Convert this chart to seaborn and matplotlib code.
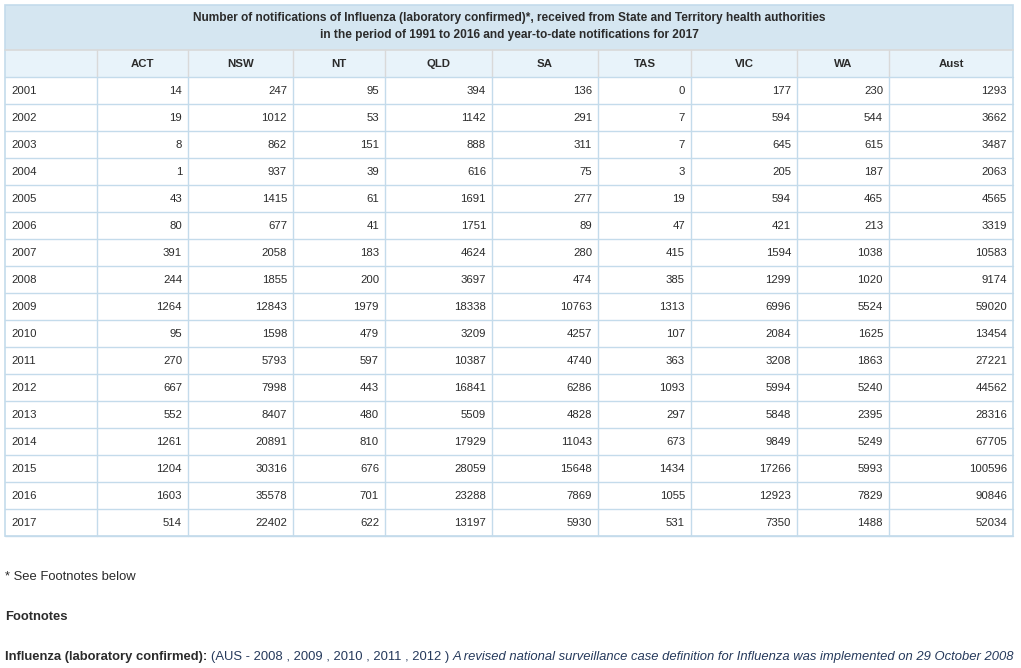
import matplotlib
matplotlib.use('Agg')
import matplotlib.pyplot as plt
import seaborn as sns
from matplotlib.patches import Rectangle

# ------------------------------------------------------------
# Data
# ------------------------------------------------------------
title_lines = [
    "Number of notifications of Influenza (laboratory confirmed)*, received from State and Territory health authorities",
    "in the period of 1991 to 2016 and year-to-date notifications for 2017",
]
columns = ["ACT", "NSW", "NT", "QLD", "SA", "TAS", "VIC", "WA", "Aust"]
years = [2001, 2002, 2003, 2004, 2005, 2006, 2007, 2008, 2009,
         2010, 2011, 2012, 2013, 2014, 2015, 2016, 2017]
act = [14, 19, 8, 1, 43, 80, 391, 244, 1264, 95, 270, 667, 552, 1261, 1204, 1603, 514]
nsw = [247, 1012, 862, 937, 1415, 677, 2058, 1855, 12843, 1598, 5793, 7998, 8407, 20891, 30316, 35578, 22402]
nt = [95, 53, 151, 39, 61, 41, 183, 200, 1979, 479, 597, 443, 480, 810, 676, 701, 622]
qld = [394, 1142, 888, 616, 1691, 1751, 4624, 3697, 18338, 3209, 10387, 16841, 5509, 17929, 28059, 23288, 13197]
sa = [136, 291, 311, 75, 277, 89, 280, 474, 10763, 4257, 4740, 6286, 4828, 11043, 15648, 7869, 5930]
tas = [0, 7, 7, 3, 19, 47, 415, 385, 1313, 107, 363, 1093, 297, 673, 1434, 1055, 531]
vic = [177, 594, 645, 205, 594, 421, 1594, 1299, 6996, 2084, 3208, 5994, 5848, 9849, 17266, 12923, 7350]
wa = [230, 544, 615, 187, 465, 213, 1038, 1020, 5524, 1625, 1863, 5240, 2395, 5249, 5993, 7829, 1488]
aust = [1293, 3662, 3487, 2063, 4565, 3319, 10583, 9174, 59020, 13454, 27221, 44562, 28316, 67705, 100596, 90846, 52034]
series = [act, nsw, nt, qld, sa, tas, vic, wa, aust]

footnote_star = "* See Footnotes below"
footnote_head = "Footnotes"
footnote_parts = [
    ("Influenza (laboratory confirmed): ", "bold", "normal", "#2b2b2b"),
    ("(AUS - 2008 , 2009 , 2010 , 2011 , 2012 ) ", "normal", "normal", "#263a5c"),
    ("A revised national surveillance case definition for Influenza was implemented on 29 October 2008",
     "normal", "italic", "#263a5c"),
]

# ------------------------------------------------------------
# Layout (pixels)
# ------------------------------------------------------------
sns.set_theme(style="white")
plt.rcParams['font.family'] = ['Liberation Sans', 'DejaVu Sans']

W, H = 1021, 668
fig = plt.figure(figsize=(W / 100, H / 100), dpi=100)
ax = fig.add_axes([0, 0, 1, 1])
ax.set_xlim(0, W)
ax.set_ylim(H, 0)
ax.axis('off')

edges = [5, 97, 188, 293, 385, 492, 598, 691, 797, 889, 1013]
title_top, head_top, data_top, row_h = 5, 50, 77, 27
table_bottom = data_top + row_h * len(years)

border = '#c4dbeb'
head_line = '#d9d9d9'
txt = '#2b2b2b'
fs = 8.2

# title row
ax.add_patch(Rectangle((edges[0], title_top), edges[-1] - edges[0], head_top - title_top,
                       facecolor='#d5e6f1', edgecolor='none'))
ax.text((edges[0] + edges[-1]) / 2, 18, title_lines[0], ha='center', va='center',
        fontsize=8.6, fontweight='bold', color=txt)
ax.text((edges[0] + edges[-1]) / 2, 35, title_lines[1], ha='center', va='center',
        fontsize=8.6, fontweight='bold', color=txt)

# header row
ax.add_patch(Rectangle((edges[0], head_top), edges[-1] - edges[0], data_top - head_top,
                       facecolor='#e8f3fa', edgecolor='none'))
for i, col in enumerate(columns):
    cx = (edges[i + 1] + edges[i + 2]) / 2
    ax.text(cx, head_top + 14, col, ha='center', va='center',
            fontsize=fs, fontweight='bold', color=txt)

# data rows
for r, yr in enumerate(years):
    cy = data_top + row_h * r + row_h / 2 + 0.5
    ax.text(edges[0] + 6, cy, str(yr), ha='left', va='center', fontsize=fs, color=txt)
    for c, vals in enumerate(series):
        ax.text(edges[c + 2] - 6, cy, str(vals[r]), ha='right', va='center',
                fontsize=fs, color=txt)

# grid lines
ax.plot([edges[0], edges[-1]], [head_top, head_top], color=head_line, lw=1.2)
for x in edges[1:-1]:
    ax.plot([x, x], [head_top, data_top], color=head_line, lw=1)
    ax.plot([x, x], [data_top, table_bottom], color=border, lw=1)
for r in range(len(years) + 1):
    y = data_top + row_h * r
    ax.plot([edges[0], edges[-1]], [y, y], color=border, lw=1)
ax.add_patch(Rectangle((edges[0], title_top), edges[-1] - edges[0], table_bottom - title_top,
                       facecolor='none', edgecolor=border, lw=1.2))

# footnotes
ax.text(5, 577, footnote_star, ha='left', va='center', fontsize=9.4, color=txt)
ax.text(5, 617, footnote_head, ha='left', va='center', fontsize=9.4, fontweight='bold', color=txt)

renderer = fig.canvas.get_renderer()
x = 5
for s, weight, style, color in footnote_parts:
    t = ax.text(x, 657, s, ha='left', va='center', fontsize=9.4,
                fontweight=weight, fontstyle=style, color=color)
    bb = t.get_window_extent(renderer=renderer)
    x += bb.width

fig.savefig('out.png', dpi=100)
